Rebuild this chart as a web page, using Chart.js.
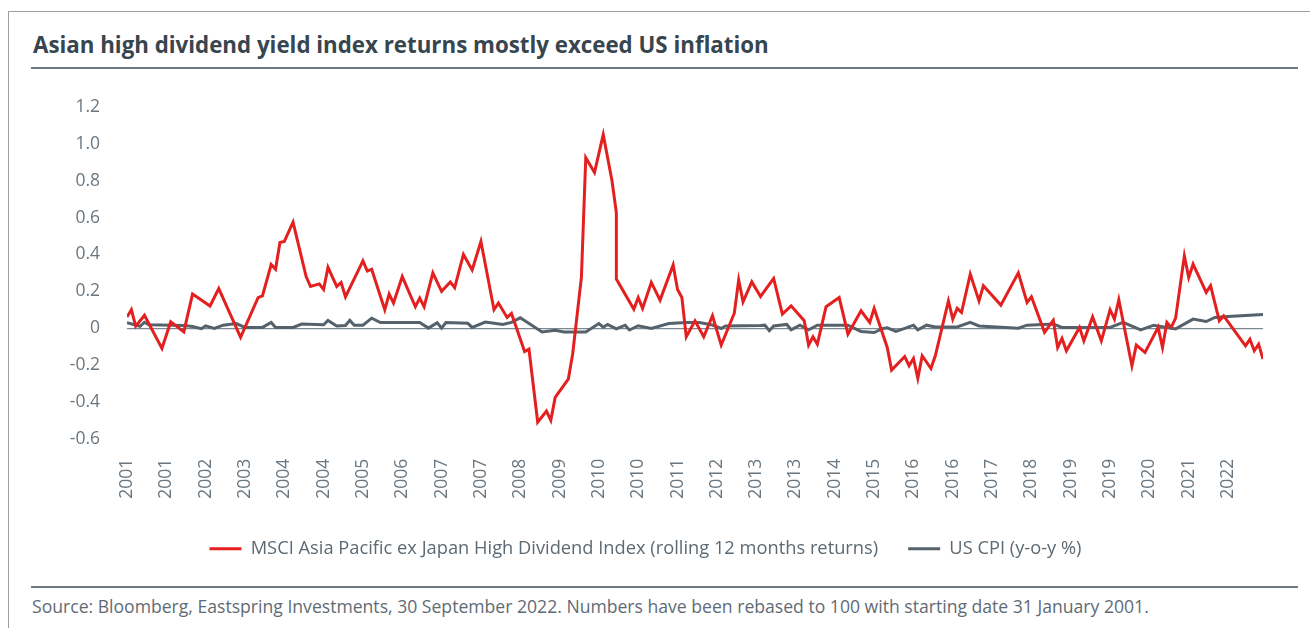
<!DOCTYPE html>
<html>
<head>
<meta charset="utf-8">
<script src="https://cdn.jsdelivr.net/npm/chart.js@4.4.0/dist/chart.umd.min.js"></script>
<style>
  html, body { margin: 0; padding: 0; background: #fff; }
  body { width: 1310px; height: 628px; position: relative; overflow: hidden; font-family: "Open Sans", "Noto Sans", sans-serif; }
  .frame { position: absolute; left: 8px; top: 11px; right: -2px; bottom: -2px; border-top: 1.5px solid #97a1a8; border-left: 1.5px solid #97a1a8; }
  .title { position: absolute; left: 33px; top: 29px; font-size: 22.3px; font-weight: 700; color: #37454f; white-space: nowrap; }
  .rule { position: absolute; left: 31px; width: 1267px; height: 1.5px; background: #6d7880; }
  .source { position: absolute; left: 32px; top: 594px; font-size: 17.6px; color: #5f6b74; white-space: nowrap; }
  #wrap { position: absolute; left: 0; top: 90px; width: 1310px; height: 490px; }
</style>
</head>
<body>
<div class="frame"></div>
<div class="title">Asian high dividend yield index returns mostly exceed US inflation</div>
<div class="rule" style="top:67px"></div>
<div id="wrap"><canvas id="chart" width="1310" height="490"></canvas></div>
<div class="rule" style="top:586px"></div>
<div class="source">Source: Bloomberg, Eastspring Investments, 30 September 2022. Numbers have been rebased to 100 with starting date 31 January 2001.</div>
<script>
// months since Jan 2001, labels every 9 months
const tickLabels = ['2001', '2001', '2002', '2003', '2004', '2004', '2005', '2006', '2007', '2007',
  '2008', '2009', '2010', '2010', '2011', '2012', '2013', '2013', '2014', '2015',
  '2016', '2016', '2017', '2018', '2019', '2019', '2020', '2021', '2022'];

const msciMonths = [0, 1, 2, 4, 8, 10, 13, 15, 19, 21, 26, 30, 31, 33, 34, 35, 36, 38, 41, 42,
  44, 45, 46, 48, 49, 50, 54, 55, 56, 59, 60, 61, 63, 66, 67, 68, 70, 72, 74, 75,
  77, 79, 81, 84, 85, 87, 88, 91, 92, 94, 96, 97, 98, 101, 102, 104, 105, 107, 109, 111,
  112, 112, 116, 117, 118, 120, 122, 125, 126, 127, 128, 130, 132, 134, 136, 139, 140, 141, 143, 145,
  148, 150, 152, 155, 156, 157, 158, 160, 163, 165, 168, 170, 171, 174, 175, 178, 179, 180, 181, 182,
  184, 185, 188, 189, 190, 191, 193, 195, 196, 200, 204, 206, 207, 210, 212, 213, 214, 215, 218, 219,
  221, 223, 225, 226, 227, 230, 231, 233, 236, 237, 238, 239, 240, 242, 243, 244, 247, 248, 250, 251,
  256, 257, 258, 259, 260];
const msciReturns = [0.06, 0.10, 0.01, 0.07, -0.11, 0.035, -0.02, 0.185, 0.12, 0.215, -0.05, 0.165, 0.175, 0.345, 0.32, 0.465, 0.47, 0.575, 0.28, 0.226,
  0.24, 0.21, 0.33, 0.226, 0.248, 0.17, 0.365, 0.31, 0.32, 0.10, 0.185, 0.136, 0.28, 0.116, 0.163, 0.116, 0.30, 0.20, 0.25, 0.22,
  0.40, 0.316, 0.47, 0.10, 0.136, 0.058, 0.08, -0.127, -0.114, -0.51, -0.45, -0.50, -0.376, -0.277, -0.14, 0.275, 0.925, 0.845, 1.05, 0.80,
  0.627, 0.266, 0.103, 0.166, 0.107, 0.248, 0.152, 0.343, 0.21, 0.166, -0.047, 0.04, -0.047, 0.067, -0.092, 0.081, 0.262, 0.143, 0.251, 0.172,
  0.27, 0.076, 0.121, 0.04, -0.092, -0.047, -0.087, 0.116, 0.166, -0.033, 0.094, 0.031, 0.107, -0.105, -0.228, -0.154, -0.204, -0.165, -0.273, -0.15,
  -0.219, -0.15, 0.148, 0.049, 0.107, 0.085, 0.293, 0.148, 0.23, 0.125, 0.30, 0.139, 0.17, -0.023, 0.043, -0.105, -0.056, -0.123, 0.004, -0.069,
  0.061, -0.069, 0.10, 0.049, 0.154, -0.204, -0.092, -0.132, 0.004, -0.105, 0.031, 0.004, 0.054, 0.392, 0.275, 0.347, 0.194, 0.23, 0.04, 0.067,
  -0.096, -0.06, -0.123, -0.087, -0.168];

const cpiMonths = [0, 3, 4, 5, 13, 15, 17, 18, 20, 22, 25, 27, 31, 33, 34, 38, 40, 45, 46, 48,
  50, 51, 52, 54, 56, 58, 67, 69, 71, 72, 73, 78, 79, 82, 86, 88, 90, 95, 98, 100,
  105, 108, 109, 110, 112, 114, 115, 117, 120, 124, 128, 131, 134, 136, 137, 145, 146, 147, 148, 151,
  152, 154, 156, 158, 165, 166, 168, 171, 173, 174, 176, 178, 180, 181, 183, 185, 190, 193, 195, 204,
  206, 212, 214, 225, 228, 232, 235, 240, 244, 247, 249, 252, 260];
const cpiYoy = [0.03, 0.01, 0.032, 0.018, 0.014, 0.009, -0.003, 0.012, -0.002, 0.016, 0.025, 0.004, 0.004, 0.031, 0.004, 0.004, 0.022, 0.018, 0.042, 0.012,
  0.014, 0.042, 0.016, 0.016, 0.054, 0.03, 0.03, 0.0, 0.029, 0.0, 0.03, 0.026, 0.004, 0.033, 0.02, 0.031, 0.056, -0.021, -0.011, -0.021,
  -0.021, 0.025, 0.005, 0.02, -0.004, 0.016, -0.01, 0.013, -0.002, 0.025, 0.03, 0.031, 0.017, -0.002, 0.012, 0.014, 0.016, -0.014, 0.012, 0.02,
  -0.009, 0.016, -0.009, 0.016, 0.016, 0.004, -0.018, -0.024, -0.002, 0.002, -0.018, -0.001, 0.016, -0.009, 0.016, 0.006, 0.006, 0.031, 0.012, 0.0,
  0.016, 0.022, 0.004, 0.004, 0.031, -0.009, 0.016, -0.004, 0.049, 0.036, 0.058, 0.063, 0.074];

const textGrey = '#6b7780';
const fontFamily = '"Open Sans", "Noto Sans", sans-serif';
const tickFont = { family: fontFamily, size: 17.5 };

const msciPoints = msciMonths.map((m, i) => ({ x: m, y: msciReturns[i] }));
const cpiPoints = cpiMonths.map((m, i) => ({ x: m, y: cpiYoy[i] }));

new Chart(document.getElementById('chart'), {
  type: 'line',
  data: {
    datasets: [{
      label: 'MSCI Asia Pacific ex Japan High Dividend Index (rolling 12 months returns)',
      data: msciPoints,
      borderColor: '#e3201f',
      backgroundColor: '#e3201f',
      borderWidth: 3,
      pointRadius: 0,
      tension: 0
    }, {
      label: 'US CPI (y-o-y %)',
      data: cpiPoints,
      borderColor: '#55626b',
      backgroundColor: '#55626b',
      borderWidth: 3,
      pointRadius: 0,
      tension: 0
    }]
  },
  options: {
    responsive: false,
    animation: false,
    devicePixelRatio: 1,
    layout: { padding: { top: 17, right: 47, bottom: 12, left: 28 } },
    plugins: {
      tooltip: { enabled: false },
      legend: {
        position: 'bottom',
        labels: {
          usePointStyle: true,
          pointStyle: 'line',
          pointStyleWidth: 32,
          padding: 30,
          color: '#5d6a73',
          font: { family: fontFamily, size: 18.3 }
        }
      }
    },
    scales: {
      x: {
        type: 'linear',
        min: 0,
        max: 260,
        grid: { display: false, drawTicks: false },
        border: { display: false },
        afterBuildTicks: s => { s.ticks = tickLabels.map((t, i) => ({ value: i * 9 })); },
        afterFit: s => { s.height = 71; s.paddingLeft = 0; s.paddingRight = 0; },
        ticks: {
          autoSkip: false,
          minRotation: 90,
          maxRotation: 90,
          padding: 20,
          color: textGrey,
          font: tickFont,
          callback: (v, i) => tickLabels[i]
        }
      },
      y: {
        min: -0.6,
        max: 1.2,
        afterFit: s => { s.width = 99; s.paddingTop = 0; s.paddingBottom = 0; },
        border: { display: false },
        grid: {
          drawTicks: false,
          lineWidth: 1.2,
          color: c => (Math.abs(c.tick.value) < 1e-9 ? '#7d8991' : 'rgba(0,0,0,0)')
        },
        ticks: {
          stepSize: 0.2,
          padding: 27,
          color: textGrey,
          font: tickFont,
          callback: v => (Math.abs(v) < 1e-9 ? '0' : v.toFixed(1))
        }
      }
    }
  }
});
</script>
</body>
</html>
